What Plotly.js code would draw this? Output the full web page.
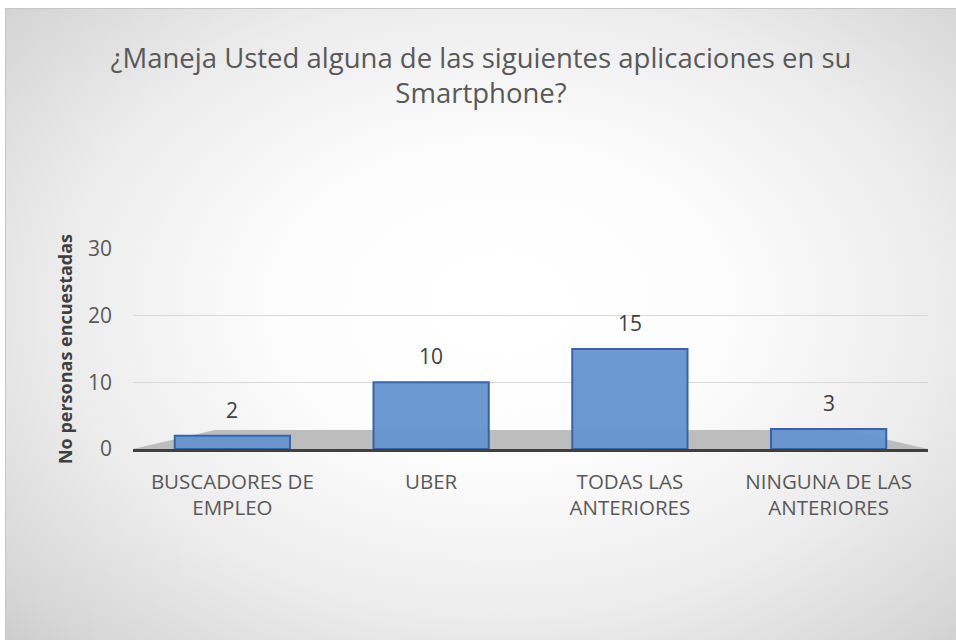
<!DOCTYPE html>
<html>
<head>
<meta charset="utf-8">
<script src="https://cdn.plot.ly/plotly-3.0.1.min.js"></script>
<style>
  html, body { margin: 0; padding: 0; background: #ffffff; }
  body { width: 956px; height: 640px; overflow: hidden; position: relative; }
  #chart {
    position: absolute; left: 5px; top: 8px;
    width: 950px; height: 631px;
    border-left: 1px solid #c6c6c6; border-top: 1px solid #c6c6c6;
    background: radial-gradient(ellipse 75% 80% at 52% 47%, #ffffff 0%, #fdfdfd 30%, #ececec 62%, #d6d6d6 88%, #c9c9c9 100%);
  }
</style>
</head>
<body>
<div id="chart"></div>
<script>
const categories = ["BUSCADORES DE<br>EMPLEO", "UBER", "TODAS LAS<br>ANTERIORES", "NINGUNA DE LAS<br>ANTERIORES"];
const values = [2, 10, 15, 3];
const yTicks = [0, 10, 20, 30];

const trace = {
  type: "bar",
  x: categories,
  y: values,
  width: 0.58,
  marker: { color: "rgba(100,148,208,0.95)", line: { color: "#3565a6", width: 2 } },
  textposition: "none",
  hoverinfo: "skip"
};

const labelAnnotations = categories.map((c, i) => ({
  x: c, y: values[i], xref: "x", yref: "y",
  text: String(values[i]),
  showarrow: false, yanchor: "bottom", yshift: 10,
  font: { family: "Open Sans, sans-serif", size: 21, color: "#404040" }
}));

const layout = {
  width: 950, height: 631,
  paper_bgcolor: "rgba(0,0,0,0)",
  plot_bgcolor: "rgba(0,0,0,0)",
  margin: { l: 127, r: 28, t: 240, b: 191 },
  showlegend: false,
  title: {
    text: "¿Maneja Usted alguna de las siguientes aplicaciones en su<br>Smartphone?",
    font: { family: "Open Sans, sans-serif", size: 27.5, color: "#595959" },
    x: 0.5, xanchor: "center", y: 0.907, yanchor: "top"
  },
  xaxis: {
    type: "category",
    showgrid: false,
    showline: true, linecolor: "#404040", linewidth: 3,
    ticks: "", ticklabelstandoff: 12,
    tickfont: { family: "Open Sans, sans-serif", size: 20.5, color: "#595959" },
    zeroline: false
  },
  yaxis: {
    range: [0, 30],
    tickvals: yTicks,
    ticktext: yTicks.map(String),
    showgrid: true, gridcolor: "#d9d9d9", gridwidth: 1.5,
    zeroline: false, showline: false,
    ticks: "", ticklabelstandoff: 20,
    tickfont: { family: "Open Sans, sans-serif", size: 21, color: "#595959" },
    title: {
      text: "No personas encuestadas",
      font: { family: "Open Sans, sans-serif", size: 18, color: "#404040", weight: "bold" },
      standoff: 10
    }
  },
  annotations: labelAnnotations,
  shapes: [
    {
      type: "path", xref: "paper", yref: "y", layer: "below",
      path: "M 0.0 0 L 0.103 2.85 L 0.896 2.85 L 1.0 0 Z",
      fillcolor: "#bdbdbd", line: { width: 0 }
    }
  ]
};

Plotly.newPlot("chart", [trace], layout, { displayModeBar: false, staticPlot: true });
</script>
</body>
</html>
